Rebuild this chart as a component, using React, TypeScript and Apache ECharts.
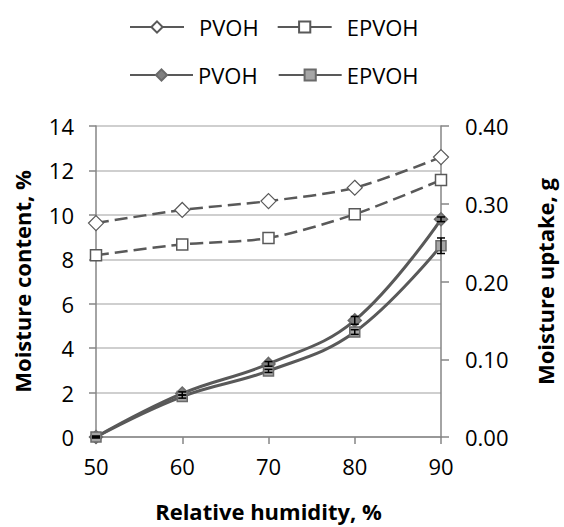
import { useEffect, useRef } from "react";
import * as echarts from "echarts";

const humidity = [50, 60, 70, 80, 90];
const contentPVOH = [9.63, 10.22, 10.62, 11.22, 12.6];
const contentEPVOH = [8.18, 8.67, 8.96, 10.03, 11.57];
const uptakePVOH = [0, 0.056, 0.094, 0.15, 0.28];
const uptakeEPVOH = [0, 0.052, 0.085, 0.135, 0.246];
const errPVOH = [0.001, 0.002, 0.003, 0.005, 0.003];
const errEPVOH = [0.001, 0.002, 0.002, 0.003, 0.01];

const FONT = "'Open Sans', sans-serif";
const LINE = "#595959";
const AXIS = "#868686";

const pairs = (ys: number[]) => humidity.map((x, i) => [x, ys[i]]);
const errData = (ys: number[], es: number[]) => humidity.map((x, i) => [x, ys[i], es[i]]);

function errorBars(params: any, api: any) {
  const x = api.value(0);
  const y = api.value(1);
  const e = api.value(2);
  const hi = api.coord([x, y + e]);
  const lo = api.coord([x, y - e]);
  const w = 4;
  const style = { stroke: "#000", lineWidth: 1.5 };
  return {
    type: "group",
    children: [
      { type: "line", shape: { x1: hi[0], y1: hi[1], x2: lo[0], y2: lo[1] }, style },
      { type: "line", shape: { x1: hi[0] - w, y1: hi[1], x2: hi[0] + w, y2: hi[1] }, style },
      { type: "line", shape: { x1: lo[0] - w, y1: lo[1], x2: lo[0] + w, y2: lo[1] }, style },
    ],
  };
}

export default function App() {
  const ref = useRef<HTMLDivElement | null>(null);

  useEffect(() => {
    if (!ref.current) return;
    const chart = echarts.init(ref.current, null, { renderer: "svg" });
    const legendText = { color: "#000", fontSize: 22, fontFamily: FONT };
    const nameText = { color: "#000", fontSize: 22, fontWeight: "bold", fontFamily: FONT };
    chart.setOption({
      animation: false,
      backgroundColor: "#fff",
      textStyle: { fontFamily: FONT },
      legend: [
        {
          data: ["PVOH", "EPVOH"],
          left: 124,
          top: 11,
          itemWidth: 54,
          itemHeight: 14,
          itemGap: 18,
          formatter: (n: string) => n.trim(),
          textStyle: { ...legendText, padding: [0, 0, 0, 10] },
          lineStyle: { type: "solid" },
          selectedMode: false,
        },
        {
          data: ["PVOH ", "EPVOH "],
          left: 124,
          top: 59,
          itemWidth: 63,
          itemHeight: 14,
          itemGap: 20,
          formatter: (n: string) => n.trim(),
          textStyle: legendText,
          selectedMode: false,
        },
      ],
      grid: { left: 96, right: 112, top: 126, bottom: 86 },
      xAxis: {
        type: "value",
        min: 50,
        max: 90,
        interval: 10,
        name: "Relative humidity, %",
        nameLocation: "middle",
        nameGap: 63,
        nameTextStyle: nameText,
        axisLine: { lineStyle: { color: AXIS, width: 1.5 } },
        axisTick: { show: true, length: 7, lineStyle: { color: AXIS, width: 1.5 } },
        axisLabel: { color: "#000", fontSize: 22, margin: 18, fontFamily: FONT },
        splitLine: { show: false },
      },
      yAxis: [
        {
          type: "value",
          min: 0,
          max: 14,
          interval: 2,
          name: "Moisture content, %",
          nameLocation: "middle",
          nameGap: 63,
          nameTextStyle: nameText,
          axisLine: { show: true, lineStyle: { color: AXIS, width: 1.5 } },
          axisTick: { show: true, length: 7, lineStyle: { color: AXIS, width: 1.5 } },
          axisLabel: { color: "#000", fontSize: 22, margin: 22, fontFamily: FONT },
          splitLine: { show: true, lineStyle: { color: "#bfbfbf", width: 1.5 } },
        },
        {
          type: "value",
          min: 0,
          max: 0.4,
          interval: 0.1,
          position: "right",
          name: "Moisture uptake, g",
          nameLocation: "middle",
          nameGap: 93,
          nameRotate: 90,
          nameTextStyle: nameText,
          axisLine: { show: true, lineStyle: { color: AXIS, width: 1.5 } },
          axisTick: { show: true, length: 8, lineStyle: { color: AXIS, width: 1.5 } },
          axisLabel: {
            color: "#000",
            fontSize: 22,
            margin: 24,
            fontFamily: FONT,
            formatter: (v: number) => v.toFixed(2),
          },
          splitLine: { show: false },
        },
      ],
      series: [
        {
          name: "PVOH",
          type: "line",
          yAxisIndex: 0,
          data: pairs(contentPVOH),
          smooth: 0.3,
          symbol: "diamond",
          symbolSize: 15,
          lineStyle: { color: LINE, width: 2.5, type: [13, 6] },
          itemStyle: { color: "#fff", borderColor: LINE, borderWidth: 1.2 },
          z: 3,
        },
        {
          name: "EPVOH",
          type: "line",
          yAxisIndex: 0,
          data: pairs(contentEPVOH),
          smooth: 0.3,
          symbol: "rect",
          symbolSize: 11,
          lineStyle: { color: LINE, width: 2.5, type: [13, 6] },
          itemStyle: { color: "#fff", borderColor: LINE, borderWidth: 1.5 },
          z: 3,
        },
        {
          name: "PVOH ",
          type: "line",
          yAxisIndex: 1,
          data: pairs(uptakePVOH),
          smooth: 0.4,
          symbol: "diamond",
          symbolSize: 13,
          lineStyle: { color: LINE, width: 3 },
          itemStyle: { color: "#7f7f7f", borderColor: "#6a6a6a", borderWidth: 1.5 },
          z: 4,
        },
        {
          name: "EPVOH ",
          type: "line",
          yAxisIndex: 1,
          data: pairs(uptakeEPVOH),
          smooth: 0.4,
          symbol: "rect",
          symbolSize: 10,
          lineStyle: { color: LINE, width: 3 },
          itemStyle: { color: "#a6a6a6", borderColor: "#6a6a6a", borderWidth: 1.5 },
          z: 4,
        },
        {
          type: "custom",
          yAxisIndex: 1,
          data: errData(uptakePVOH, errPVOH),
          encode: { x: 0, y: 1 },
          renderItem: errorBars,
          z: 5,
          silent: true,
        },
        {
          type: "custom",
          yAxisIndex: 1,
          data: errData(uptakeEPVOH, errEPVOH),
          encode: { x: 0, y: 1 },
          renderItem: errorBars,
          z: 5,
          silent: true,
        },
      ],
    });
    return () => chart.dispose();
  }, []);

  return (
    <div
      ref={ref}
      style={{ position: "fixed", left: 0, top: 0, width: 564, height: 527 }}
    />
  );
}
